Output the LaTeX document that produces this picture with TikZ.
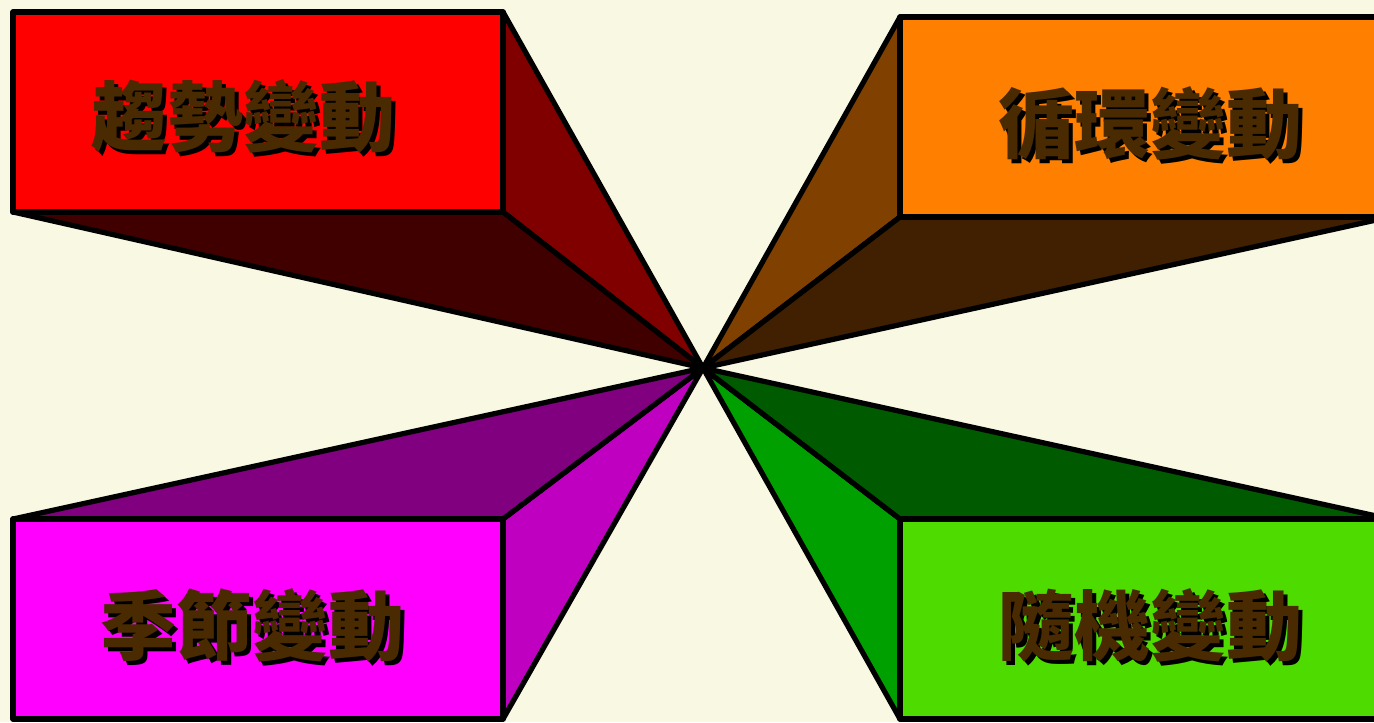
\documentclass[tikz,border=0pt]{standalone}
\usepackage{fontspec}
\newfontfamily\cjk{Noto Sans CJK TC}
\usetikzlibrary{positioning}
\definecolor{Paper}{HTML}{F9F8E2}
\definecolor{TrendFront}{HTML}{FF0000}
\definecolor{TrendSide}{HTML}{800000}
\definecolor{TrendBase}{HTML}{400000}
\definecolor{CycleFront}{HTML}{FF8000}
\definecolor{CycleSide}{HTML}{804000}
\definecolor{CycleBase}{HTML}{402000}
\definecolor{SeasonFront}{HTML}{FF00FF}
\definecolor{SeasonSide}{HTML}{C000C0}
\definecolor{SeasonTop}{HTML}{800080}
\definecolor{RandomFront}{HTML}{4EDC00}
\definecolor{RandomSide}{HTML}{00A000}
\definecolor{RandomTop}{HTML}{005A00}
\definecolor{TextBrown}{HTML}{4A2A00}
\newcommand{\shadowed}[1]{\makebox[0pt][l]{\hspace{2pt}\raisebox{-2pt}{\color{black}#1}}\textcolor{TextBrown}{#1}}
\tikzset{
  boxtext/.style={font=\cjk\bfseries\fontsize{38}{38}\selectfont, inner sep=0pt},
  face/.style={draw=black, line width=2.6pt, line join=round}
}

\begin{document}
\begin{tikzpicture}[x=0.5pt, y=-0.5pt]
  \fill[Paper] (0,0) rectangle (1374,722);
  \useasboundingbox (0,0) rectangle (1374,722);
  \clip (0,0) rectangle (1374,722);
  \coordinate (apex) at (703,368);
  % trend box, top left
  \coordinate (tl1) at (13,12);
  \coordinate (tl2) at (503,12);
  \coordinate (tl3) at (503,212);
  \coordinate (tl4) at (13,212);
  \filldraw[face, fill=TrendSide] (tl2) -- (tl3) -- (apex) -- cycle;
  \filldraw[face, fill=TrendBase] (tl4) -- (tl3) -- (apex) -- cycle;
  \filldraw[face, fill=TrendFront] (tl1) rectangle (tl3);
  % cycle box, top right
  \coordinate (tr1) at (900,17);
  \coordinate (tr2) at (1390,17);
  \coordinate (tr3) at (1390,217);
  \coordinate (tr4) at (900,217);
  \filldraw[face, fill=CycleSide] (tr1) -- (tr4) -- (apex) -- cycle;
  \filldraw[face, fill=CycleBase] (tr4) -- (tr3) -- (apex) -- cycle;
  \filldraw[face, fill=CycleFront] (tr1) rectangle (tr3);
  % season box, bottom left
  \coordinate (bl1) at (13,519);
  \coordinate (bl2) at (503,519);
  \coordinate (bl3) at (503,719);
  \coordinate (bl4) at (13,719);
  \filldraw[face, fill=SeasonSide] (bl2) -- (bl3) -- (apex) -- cycle;
  \filldraw[face, fill=SeasonTop] (bl1) -- (bl2) -- (apex) -- cycle;
  \filldraw[face, fill=SeasonFront] (bl1) rectangle (bl3);
  % random box, bottom right
  \coordinate (br1) at (900,519);
  \coordinate (br2) at (1390,519);
  \coordinate (br3) at (1390,719);
  \coordinate (br4) at (900,719);
  \filldraw[face, fill=RandomSide] (br1) -- (br4) -- (apex) -- cycle;
  \filldraw[face, fill=RandomTop] (br1) -- (br2) -- (apex) -- cycle;
  \filldraw[face, fill=RandomFront] (br1) rectangle (br3);
  % labels with shadow
  \node[boxtext] (trend) at (243,118) {\shadowed{趨勢變動}};
  \node[boxtext] (cycle) at (1150,125) {\shadowed{循環變動}};
  \node[boxtext] (season) at (252,627) {\shadowed{季節變動}};
  \node[boxtext] (random) at (1150,627) {\shadowed{隨機變動}};
\end{tikzpicture}
\end{document}
